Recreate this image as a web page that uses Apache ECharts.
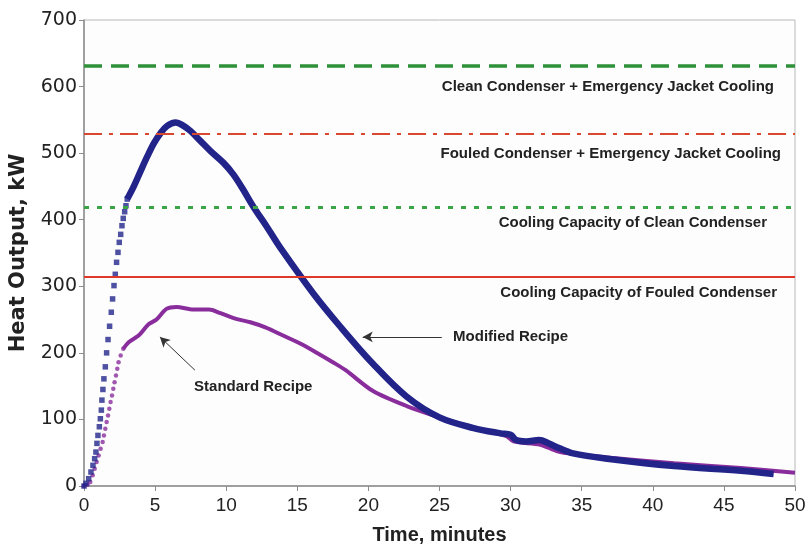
<!DOCTYPE html>
<html>
<head>
<meta charset="utf-8">
<script src="https://cdn.jsdelivr.net/npm/echarts@6/dist/echarts.min.js"></script>
<style>
html,body{margin:0;padding:0;background:#fff;}
#chart{width:809px;height:550px;}
</style>
</head>
<body>
<div id="chart"></div>
<script>
// ---- Data ----
const xTicks = [0, 5, 10, 15, 20, 25, 30, 35, 40, 45, 50];
const yTicks = [0, 100, 200, 300, 400, 500, 600, 700];

// Modified Recipe: sparse dots during fast rise (time, kW)
const modifiedRiseTime = [0.0,0.14,0.33,0.49,0.63,0.75,0.84,0.91,0.98,1.08,1.15,1.22,1.26,1.33,1.40,1.50,1.59,1.69,1.80,1.92,2.01,2.11,2.20,2.29,2.39,2.48,2.58,2.67,2.76,2.86,2.95,3.04];
const modifiedRiseKW   = [0,4,11,21,31,41,51,64,76,89,101,114,129,145,161,179,200,220,240,261,281,301,318,336,351,366,378,391,402,412,421,431];
// Modified Recipe: dense continuous part
const modifiedTime = [3.04,3.5,3.98,4.45,4.92,5.38,5.85,6.44,7.0,7.5,8.2,8.9,9.83,10.5,11.2,11.9,12.9,13.8,16.1,18.0,20.3,22.7,25.0,27.4,29.3,30.0,30.4,31.1,32.0,32.7,33.4,34.4,36.8,41.5,46.2,48.5];
const modifiedKW   = [431,450,473,495,515,530,541,546,541,533,518,503,485,468,445,420,388,358,290,240,184,134,103,87,79,77,69,67,69,64,57,49,41,30,23,18];

// Standard Recipe: sparse dots during rise
const standardRiseTime = [0.0,0.25,0.44,0.61,0.75,0.89,1.03,1.17,1.31,1.40,1.50,1.59,1.69,1.78,1.87,1.97,2.06,2.15,2.25,2.34,2.43,2.58,2.76];
const standardRiseKW   = [0,2,6,16,26,36,46,56,66,76,86,96,106,116,126,136,146,156,166,176,186,196,206];
// Standard Recipe: continuous part
const standardTime = [2.76,3.14,3.84,4.54,5.1,5.8,6.5,7.7,8.8,9.55,10.7,11.7,12.8,14.0,15.2,16.3,17.5,18.4,20.3,22.7,25.0,27.4,29.7,30.2,32.1,33.3,34.4,36.8,41.5,46.2,50.0];
const standardKW   = [206,216,226,243,250,266,269,265,265,260,251,246,238,226,214,201,186,174,143,120,103,87,75,67,62,52,48,43,34,27,20];

// Cooling capacity limits (kW)
const limitNames  = ["Clean Condenser + Emergency Jacket Cooling","Fouled Condenser + Emergency Jacket Cooling","Cooling Capacity of Clean Condenser","Cooling Capacity of Fouled Condenser"];
const limitValues = [632, 529, 418, 314];

// Annotations: label text, label anchor (time,kW), arrow tail and tip (time,kW)
const annotNames = ["Modified Recipe", "Standard Recipe"];
const annotLabelTime = [30.0, 11.9];
const annotLabelKW   = [224, 149];
const arrowTailTime = [25.16, 7.8];
const arrowTailKW   = [224, 174];
const arrowTipTime  = [19.6, 5.34];
const arrowTipKW    = [224, 224];

// ---- Chart ----
const zip = (a, b) => a.map((v, i) => [v, b[i]]);
const BLUE = '#22248a';
const PURPLE = '#8a2d9c';
const font = 'Liberation Sans, Arial, sans-serif';
const wideFont = 'DejaVu Sans, Liberation Sans, sans-serif';

const limitStyles = [
  {line:{color:'#2e9038', width:3.5, type:[18,9]}, dist:[21,14]},
  {line:{color:'#d8482e', width:2.2, type:[18,7,4,7]}, dist:[14,13]},
  {line:{color:'#3aa547', width:3, type:[5,8]}, dist:[28,8]},
  {line:{color:'#e0382a', width:2.2, type:'solid'}, dist:[18,8]}
];

const chart = echarts.init(document.getElementById('chart'), null, {renderer:'canvas'});
chart.setOption({
  animation:false,
  backgroundColor:'#ffffff',
  grid:{left:84, right:14, top:20, bottom:64, show:true, borderColor:'#b8b8b8', borderWidth:1, backgroundColor:'#fdfdfd'},
  xAxis:{
    type:'value', min:xTicks[0], max:xTicks[xTicks.length-1], interval:5,
    name:'Time, minutes', nameLocation:'middle', nameGap:39,
    nameTextStyle:{fontFamily:font, fontWeight:'bold', fontSize:20, color:'#222'},
    axisLine:{lineStyle:{color:'#8c8c8c', width:1.5}},
    axisTick:{show:true, length:5, lineStyle:{color:'#8c8c8c'}},
    axisLabel:{fontFamily:font, fontSize:19, color:'#222', margin:10},
    splitLine:{show:false}
  },
  yAxis:{
    type:'value', min:yTicks[0], max:yTicks[yTicks.length-1], interval:100,
    name:'Heat Output, kW', nameLocation:'middle', nameGap:55,
    nameTextStyle:{fontFamily:wideFont, fontWeight:'bold', fontSize:21, color:'#222'},
    axisLine:{show:true, lineStyle:{color:'#8c8c8c', width:1.5}},
    axisTick:{show:true, length:5, lineStyle:{color:'#8c8c8c'}},
    axisLabel:{fontFamily:wideFont, fontSize:19, color:'#222', margin:7},
    splitLine:{show:false}
  },
  series:[
    {
      name:'limits', type:'line', data:[], silent:true,
      markLine:{
        symbol:['none','none'], silent:true, animation:false,
        data: limitValues.map((v,i)=>({
          yAxis:v, name:limitNames[i],
          lineStyle:limitStyles[i].line,
          label:{show:true, position:'insideEndBottom', formatter:limitNames[i],
                 fontFamily:font, fontWeight:'bold', fontSize:15, color:'#222', distance:limitStyles[i].dist}
        }))
      }
    },
    {
      name:'Standard Recipe dots', type:'scatter', data:zip(standardRiseTime, standardRiseKW),
      symbol:'circle', symbolSize:4.5, itemStyle:{color:PURPLE}, z:3
    },
    {
      name:'Standard Recipe', type:'line', data:zip(standardTime, standardKW),
      showSymbol:false, smooth:0.3, lineStyle:{color:PURPLE, width:4}, z:3
    },
    {
      name:'Modified Recipe dots', type:'scatter', data:zip(modifiedRiseTime, modifiedRiseKW),
      symbol:'rect', symbolSize:5.5, itemStyle:{color:BLUE}, z:4
    },
    {
      name:'Modified Recipe', type:'line', data:zip(modifiedTime, modifiedKW),
      showSymbol:false, smooth:0.35, lineStyle:{color:BLUE, width:6.5}, z:4
    },
    {
      name:'annotations', type:'scatter', symbolSize:1, z:6,
      itemStyle:{color:'rgba(0,0,0,0)'},
      data: annotNames.map((n,i)=>({name:n, value:[annotLabelTime[i], annotLabelKW[i]]})),
      label:{show:true, position:'inside', formatter:p=>p.name,
             fontFamily:font, fontWeight:'bold', fontSize:15, color:'#222',
             textBorderWidth:0, textBorderColor:'transparent', opacity:1},
      markLine:{
        silent:true, animation:false, symbol:['none','arrow'], symbolSize:[8,10],
        lineStyle:{color:'#333', width:1, type:'solid', opacity:1},
        label:{show:false},
        data: annotNames.map((n,i)=>[
          {coord:[arrowTailTime[i], arrowTailKW[i]]},
          {coord:[arrowTipTime[i], arrowTipKW[i]]}
        ])
      }
    }
  ]
});
</script>
</body>
</html>
